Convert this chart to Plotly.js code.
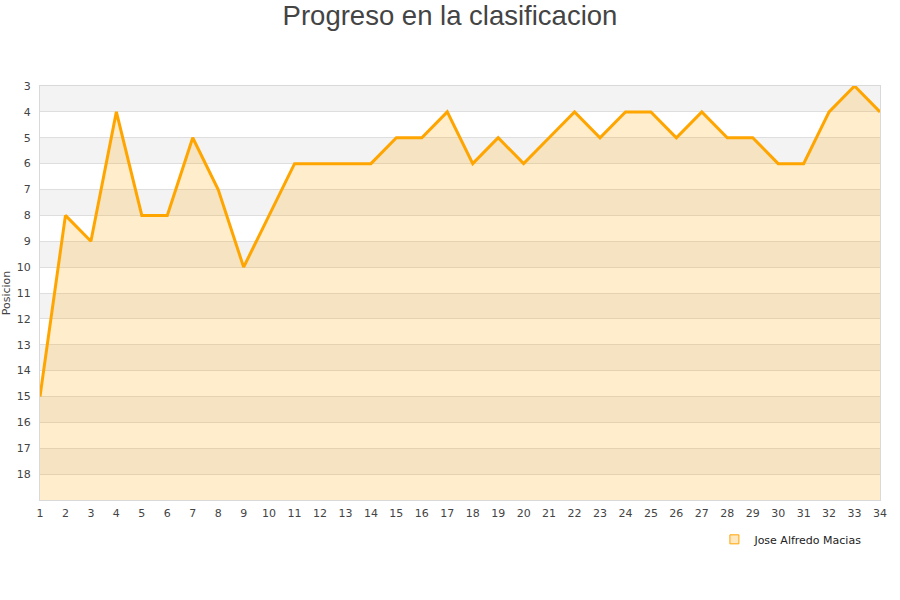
<!DOCTYPE html>
<html>
<head>
<meta charset="utf-8">
<script src="https://cdn.plot.ly/plotly-3.0.1.min.js"></script>
<style>html,body{margin:0;padding:0;background:#fff;}#chart{width:900px;height:600px;}</style>
</head>
<body>
<div id="chart"></div>
<script>
const jornadas = [1,2,3,4,5,6,7,8,9,10,11,12,13,14,15,16,17,18,19,20,21,22,23,24,25,26,27,28,29,30,31,32,33,34];
const posicion = [15,8,9,4,8,8,5,7,10,8,6,6,6,6,5,5,4,6,5,6,5,4,5,4,4,5,4,5,5,6,6,4,3,4];
const yTicks = [3,4,5,6,7,8,9,10,11,12,13,14,15,16,17,18];
const bandStarts = [3,5,7,9,11,13,15,17];
const yBottom = 19;
const seriesName = 'Jose Alfredo Macias';

const baseline = jornadas.map(() => yBottom);

const traces = [
  {x: jornadas, y: baseline, mode: 'lines', line: {width: 0, color: 'rgba(0,0,0,0)'}, hoverinfo: 'skip', showlegend: false},
  {x: jornadas, y: posicion, mode: 'lines', fill: 'tonexty', fillcolor: 'rgba(255,165,0,0.2)',
   line: {color: '#FFA500', width: 3}, showlegend: false, name: seriesName},
  {x: [null], y: [null], mode: 'markers', name: seriesName,
   marker: {symbol: 'square', size: 9, color: 'rgba(255,165,0,0.25)', line: {color: '#FFA500', width: 1}}}
];

const shapes = bandStarts.map(s => ({
  type: 'rect', xref: 'paper', yref: 'y', x0: 0, x1: 1, y0: s, y1: s + 1,
  fillcolor: '#f3f3f3', line: {width: 0}, layer: 'below'
}));

const layout = {
  width: 900, height: 600,
  margin: {l: 40, r: 20, t: 86, b: 100},
  paper_bgcolor: '#fff', plot_bgcolor: '#fff',
  font: {family: 'DejaVu Sans, sans-serif', size: 11, color: '#444'},
  title: {text: 'Progreso en la clasificacion', x: 0.5, xanchor: 'center', y: 0.975, yanchor: 'middle',
          font: {family: 'Liberation Sans, Arial, sans-serif', size: 27.5, color: '#444'}},
  xaxis: {range: [1, 34], tickvals: jornadas, showgrid: false, zeroline: false,
          showline: true, linecolor: '#d9d9d9', mirror: true, ticks: '', ticklabelstandoff: 3,
          tickfont: {size: 11, color: '#444'}},
  yaxis: {range: [yBottom, 3], tickvals: yTicks, showgrid: true, gridcolor: '#dedede', zeroline: false,
          showline: true, linecolor: '#d9d9d9', mirror: true, ticks: '', ticklabelstandoff: 6,
          tickfont: {size: 11, color: '#444'},
          title: {text: 'Posicion', font: {size: 11, color: '#444'}, standoff: 4}},
  shapes: shapes,
  showlegend: true,
  legend: {x: 0.985, xanchor: 'right', y: -0.095, yanchor: 'middle', orientation: 'h',
           font: {size: 11, color: '#222'}, bgcolor: 'rgba(0,0,0,0)'}
};

Plotly.newPlot('chart', traces, layout, {displayModeBar: false, responsive: false});
</script>
</body>
</html>
